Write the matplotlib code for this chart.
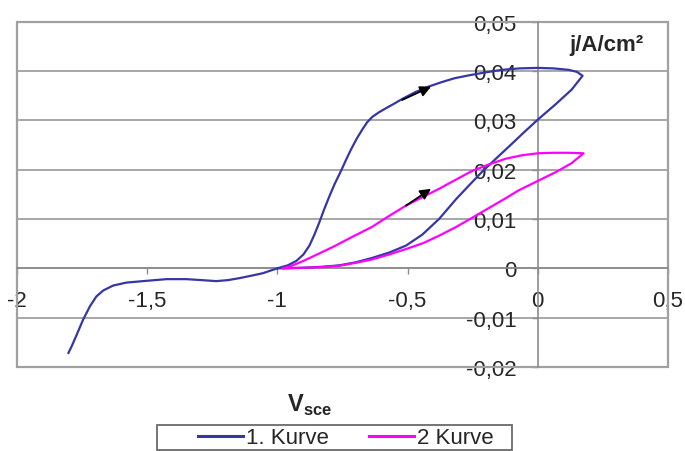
import matplotlib
matplotlib.use("Agg")
import matplotlib.pyplot as plt
from matplotlib.patches import Rectangle
from matplotlib.lines import Line2D

plt.rcParams['font.family'] = ['Liberation Sans', 'DejaVu Sans']
plt.rcParams['mathtext.fontset'] = 'custom'
plt.rcParams['mathtext.rm'] = 'Liberation Sans'
plt.rcParams['mathtext.bf'] = 'Liberation Sans:bold'

# 1. Kurve: potential sweep from -1.8 V up to +0.17 V and back to -1 V
kurve1_v = [-1.803, -1.790, -1.771, -1.746, -1.720, -1.695, -1.669, -1.631, -1.580, -1.516,
            -1.426, -1.35, -1.29, -1.235, -1.19, -1.146, -1.10, -1.056, -1.0,
            -0.96, -0.927, -0.90, -0.877, -0.858, -0.839, -0.82, -0.801, -0.78, -0.756,
            -0.737, -0.718, -0.695, -0.673, -0.655, -0.635, -0.61, -0.584, -0.55, -0.521,
            -0.47, -0.42, -0.37, -0.32, -0.264, -0.20, -0.138, -0.07, 0.0, 0.06, 0.119,
            0.15, 0.172,
            0.13, 0.07, 0.004, -0.05, -0.1, -0.157, -0.215, -0.264, -0.314, -0.379,
            -0.444, -0.506, -0.57, -0.636, -0.70, -0.762, -0.83, -0.90, -0.96, -1.0]
kurve1_j = [-0.0172, -0.0158, -0.0135, -0.0104, -0.0077, -0.0057, -0.0045, -0.0035, -0.0029, -0.0026,
            -0.0022, -0.0022, -0.0024, -0.0026, -0.0024, -0.0020, -0.0015, -0.0010, 0.0,
            0.0006, 0.0015, 0.0028, 0.0046, 0.0068, 0.0093, 0.0120, 0.0145, 0.0171, 0.0197,
            0.0219, 0.0240, 0.0263, 0.0282, 0.0296, 0.0307, 0.0316, 0.0324, 0.0334, 0.0343,
            0.0357, 0.0368, 0.0377, 0.0385, 0.0391, 0.0397, 0.0402, 0.0405, 0.0406, 0.0405, 0.0402,
            0.0398, 0.0390,
            0.0362, 0.0333, 0.0303, 0.0277, 0.0252, 0.0224, 0.0195, 0.0168, 0.0140, 0.0100,
            0.0068, 0.0046, 0.0032, 0.0021, 0.0012, 0.0006, 0.0003, 0.0001, 0.0, 0.0]

# 2 Kurve: second sweep from -1 V to +0.17 V and back
kurve2_v = [-0.98, -0.95, -0.90, -0.839, -0.78, -0.711, -0.636, -0.571, -0.506, -0.44,
            -0.379, -0.32, -0.253, -0.19, -0.123, -0.06, 0.0, 0.06, 0.12, 0.176,
            0.13, 0.07, 0.004, -0.073, -0.123, -0.188, -0.253, -0.316, -0.379, -0.44,
            -0.506, -0.571, -0.636, -0.70, -0.762, -0.84, -0.92, -0.98]
kurve2_j = [0.0, 0.0004, 0.0015, 0.0030, 0.0045, 0.0064, 0.0084, 0.0106, 0.0127, 0.0145,
            0.0161, 0.0178, 0.0197, 0.0210, 0.0222, 0.0229, 0.0233, 0.0234, 0.0234, 0.0233,
            0.0213, 0.0195, 0.0178, 0.0158, 0.0142, 0.0122, 0.0102, 0.0083, 0.0066, 0.0051,
            0.0039, 0.0028, 0.0018, 0.0011, 0.0005, 0.0002, 0.0001, 0.0]

# sweep-direction arrows: (start, end) in data units
arrow1 = [(-0.521, 0.0341), (-0.41, 0.0368)]
arrow2 = [(-0.506, 0.0127), (-0.41, 0.0161)]

series_labels = ["1. Kurve", "2 Kurve"]
series_colors = ["#3636a4", "#ff00ff"]

x_ticks = [-2, -1.5, -1, -0.5, 0, 0.5]
x_ticklabels = ["-2", "-1,5", "-1", "-0,5", "0", "0,5"]
y_ticks = [-0.02, -0.01, 0, 0.01, 0.02, 0.03, 0.04, 0.05]
y_ticklabels = ["-0,02", "-0,01", "0", "0,01", "0,02", "0,03", "0,04", "0,05"]

W, H = 685, 452
fig = plt.figure(figsize=(W / 100, H / 100), dpi=100)
ax = fig.add_axes([17 / W, 1 - 368 / H, 651 / W, (368 - 22.5) / H])
ax.set_xlim(-2, 0.5)
ax.set_ylim(-0.02, 0.05)

grey = "#a0a0a0"
ax.yaxis.grid(True, color=grey, lw=1.3, zorder=0)
ax.set_axisbelow(True)

for side in ("top", "right"):
    ax.spines[side].set_visible(False)
ax.spines["left"].set_position(("data", 0))
ax.spines["bottom"].set_position(("data", 0))
for side in ("left", "bottom"):
    ax.spines[side].set_color("#8c8c8c")
    ax.spines[side].set_linewidth(1.2)
ax.add_patch(Rectangle((0, 0), 1, 1, transform=ax.transAxes, fill=False,
                       edgecolor=grey, lw=1.6, clip_on=False, zorder=1))

ax.set_xticks(x_ticks)
ax.set_xticklabels(x_ticklabels)
ax.set_yticks(y_ticks)
ax.set_yticklabels(y_ticklabels)
ax.tick_params(axis="both", direction="out", length=4.5, width=1.0, color="#8c8c8c",
               labelsize=16, labelcolor="#262626", pad=11)

line_kw = dict(lw=1.6, zorder=3, solid_joinstyle="round", solid_capstyle="round")
ax.plot(kurve1_v, kurve1_j, color=series_colors[0], **line_kw)
ax.plot(kurve2_v, kurve2_j, color=series_colors[1], **line_kw)

for (x0, y0), (x1, y1) in (arrow1, arrow2):
    ax.annotate("", xy=(x1, y1), xytext=(x0, y0),
                arrowprops=dict(arrowstyle="-|>", color="black", lw=1.3,
                                mutation_scale=16, shrinkA=0, shrinkB=0),
                zorder=4)

fig.text(606 / W, 1 - 45 / H, "j/A/cm²", fontsize=16, fontweight="bold",
         ha="center", va="center", color="#262626")
fig.text(310 / W, 1 - 405 / H, r"$\mathbf{V}_{\mathbf{sce}}$", fontsize=17,
         ha="center", va="center", color="#262626")

# legend box below the plot
fig.patches.append(Rectangle((157 / W, 1 - 451 / H), 355 / W, 25 / H,
                             transform=fig.transFigure, fill=False,
                             edgecolor="#6a6a6a", lw=1.3))
handles = [Line2D([], [], color=c, lw=2.2) for c in series_colors]
fig.legend(handles, series_labels, loc="center", bbox_to_anchor=(346 / W, 1 - 439 / H),
           ncol=2, frameon=False, fontsize=16, handlelength=2.0, handletextpad=0.15,
           columnspacing=1.8, borderpad=0, labelcolor="#262626")

fig.savefig("out.png", dpi=100)
